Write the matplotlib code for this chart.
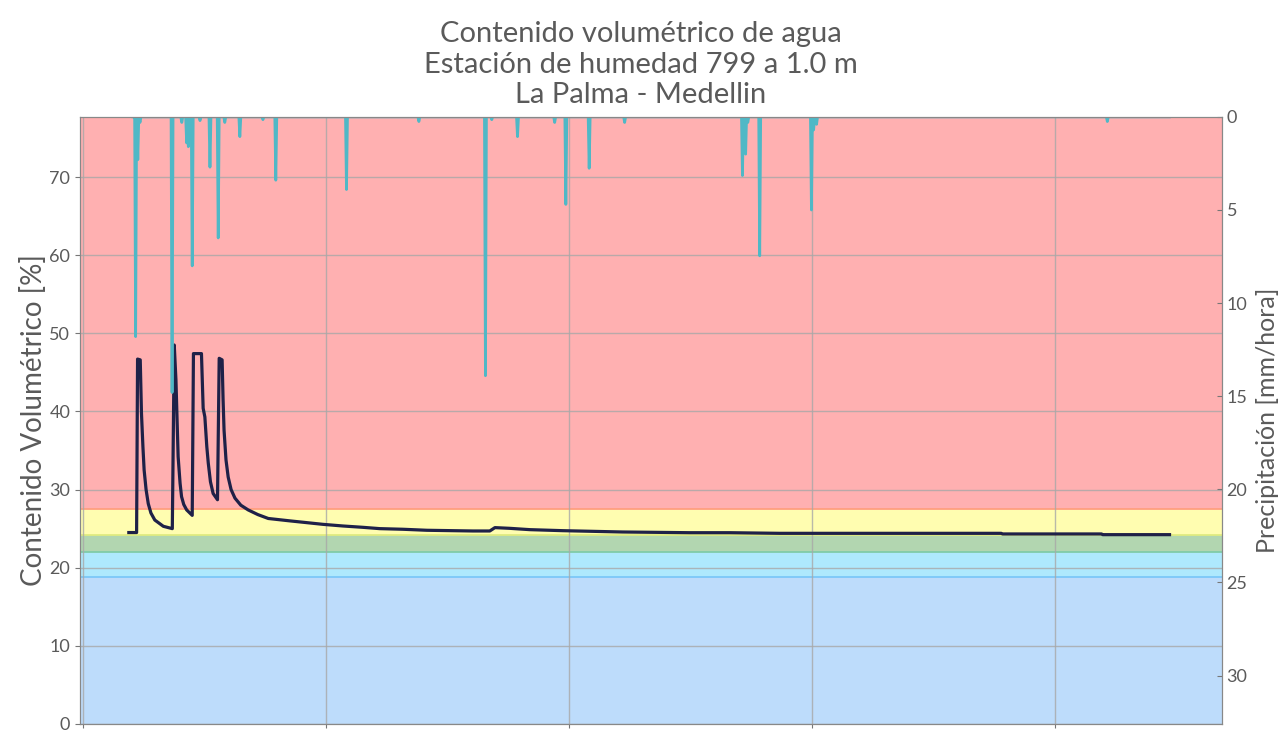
import matplotlib
matplotlib.use("Agg")
import matplotlib.pyplot as plt
import numpy as np

plt.rcParams["font.family"] = ["Lato", "DejaVu Sans"]

# contenido volumétrico (%) — dia, valor
vwc_day = [1.89, 2.21, 2.25, 2.36, 2.41, 2.47, 2.52, 2.60, 2.69, 2.80,
           2.96, 3.31, 3.68, 3.76, 3.83, 3.88, 3.92, 4.00, 4.06, 4.15,
           4.27, 4.50, 4.55, 4.88, 4.95, 5.02, 5.10, 5.16, 5.25, 5.36,
           5.54, 5.61, 5.73, 5.77, 5.81, 5.89, 5.98, 6.10, 6.26, 6.50,
           6.80, 7.20, 7.63, 8.50, 9.88, 10.70, 11.52, 12.22, 13.17, 14.16,
           16.05, 16.75, 16.96, 17.57, 18.40, 19.75, 22.22, 24.98, 26.63, 28.68,
           37.80, 37.86, 41.93, 41.98, 44.73]
vwc_val = [24.5, 24.5, 46.7, 46.6, 39.8, 35.5, 32.5, 30.0, 28.2, 27.0,
           26.1, 25.3, 25.0, 48.5, 44.0, 38.5, 34.2, 30.8, 29.1, 28.1,
           27.4, 26.7, 47.4, 47.4, 40.4, 39.3, 35.5, 33.4, 31.0, 29.5,
           28.7, 46.8, 46.6, 41.5, 37.6, 33.8, 31.6, 30.0, 28.9, 28.0,
           27.4, 26.8, 26.3, 26.0, 25.55, 25.34, 25.17, 25.0, 24.92, 24.79,
           24.70, 24.70, 25.13, 25.04, 24.87, 24.74, 24.57, 24.48, 24.48, 24.40,
           24.40, 24.32, 24.32, 24.23, 24.23]

# precipitación (mm/hora) — eventos de lluvia, el resto de horas es 0
rain_day = [2.17, 2.26, 2.35, 3.67, 4.07, 4.27, 4.34, 4.50, 4.82, 5.23,
            5.57, 5.84, 6.46, 7.41, 7.94, 10.85, 13.83, 16.57, 16.83, 17.89,
            19.42, 19.88, 20.84, 22.30, 27.15, 27.28, 27.37, 27.86, 29.99, 30.08,
            30.20, 42.17]
rain_mm = [11.8, 2.3, 0.3, 14.8, 0.3, 1.4, 1.6, 8.0, 0.2, 2.7,
           6.5, 0.3, 1.06, 0.15, 3.4, 3.9, 0.25, 13.9, 0.15, 1.06,
           0.3, 4.7, 2.76, 0.3, 3.15, 2.0, 0.3, 7.46, 5.0, 0.7,
           0.4, 0.25]
rain_start, rain_end = 2.06, 44.73

# franjas de humedad: (inferior, superior, relleno, borde)
bands = [
    (0, 18.8, "#bddcfb", "#7cc8f8"),
    (18.8, 22.0, "#aee9fd", "#80cca8"),
    (22.0, 24.2, "#b2d6b0", "#e0ec80"),
    (24.2, 27.5, "#fffdb0", "#ff9f80"),
    (27.5, 80, "#ffb0b1", None),
]

# serie horaria de lluvia
px, py = [rain_start], [0.0]
for d, v in zip(rain_day, rain_mm):
    px += [d - 0.04, d, d + 0.04]
    py += [0.0, v, 0.0]
px.append(rain_end)
py.append(0.0)

TXT = "#5a5a5a"

fig = plt.figure(figsize=(12.82, 7.35), dpi=100)
ax = fig.add_axes([0.0624, 0.015, 0.8906, 0.826])

for lo, hi, fc, ec in bands:
    ax.axhspan(lo, hi, facecolor=fc, edgecolor="none", zorder=0.5)
    if ec:
        ax.axhline(hi, color=ec, linewidth=1.3, zorder=0.6)

ax.plot(vwc_day, vwc_val, color="#1f2148", linewidth=2.3, zorder=3)

ax.set_xlim(-0.12, 46.88)
ax.set_ylim(0, 77.7)
ax.set_xticks([0, 10, 20, 30, 40])
ax.set_xticklabels([])
ax.set_yticks(range(0, 71, 10))
ax.grid(True, color="#a8a8a8", linewidth=1.0, alpha=0.8)
ax.tick_params(axis="y", colors="#777", labelcolor=TXT, labelsize=13)
ax.tick_params(axis="x", colors="#777", length=3)
ax.set_ylabel("Contenido Volumétrico [%]", fontsize=20, color=TXT, labelpad=2)
for s in ax.spines.values():
    s.set_color("#888")

ax2 = ax.twinx()
ax2.plot(px, py, color="#4fb8c6", linewidth=2.0, zorder=2)
ax2.set_ylim(32.6, 0)
ax2.set_yticks(range(0, 31, 5))
ax2.tick_params(axis="y", direction="in", colors="#777", labelcolor=TXT, labelsize=13)
ax2.set_ylabel("Precipitación [mm/hora]", fontsize=18, color=TXT, labelpad=6)
for s in ax2.spines.values():
    s.set_color("#888")

fig.text(0.5, 0.912,
         "Contenido volumétrico de agua\nEstación de humedad 799 a 1.0 m\nLa Palma - Medellin",
         ha="center", va="center", fontsize=21, color=TXT, linespacing=1.22)

fig.savefig("out.png", dpi=100)
